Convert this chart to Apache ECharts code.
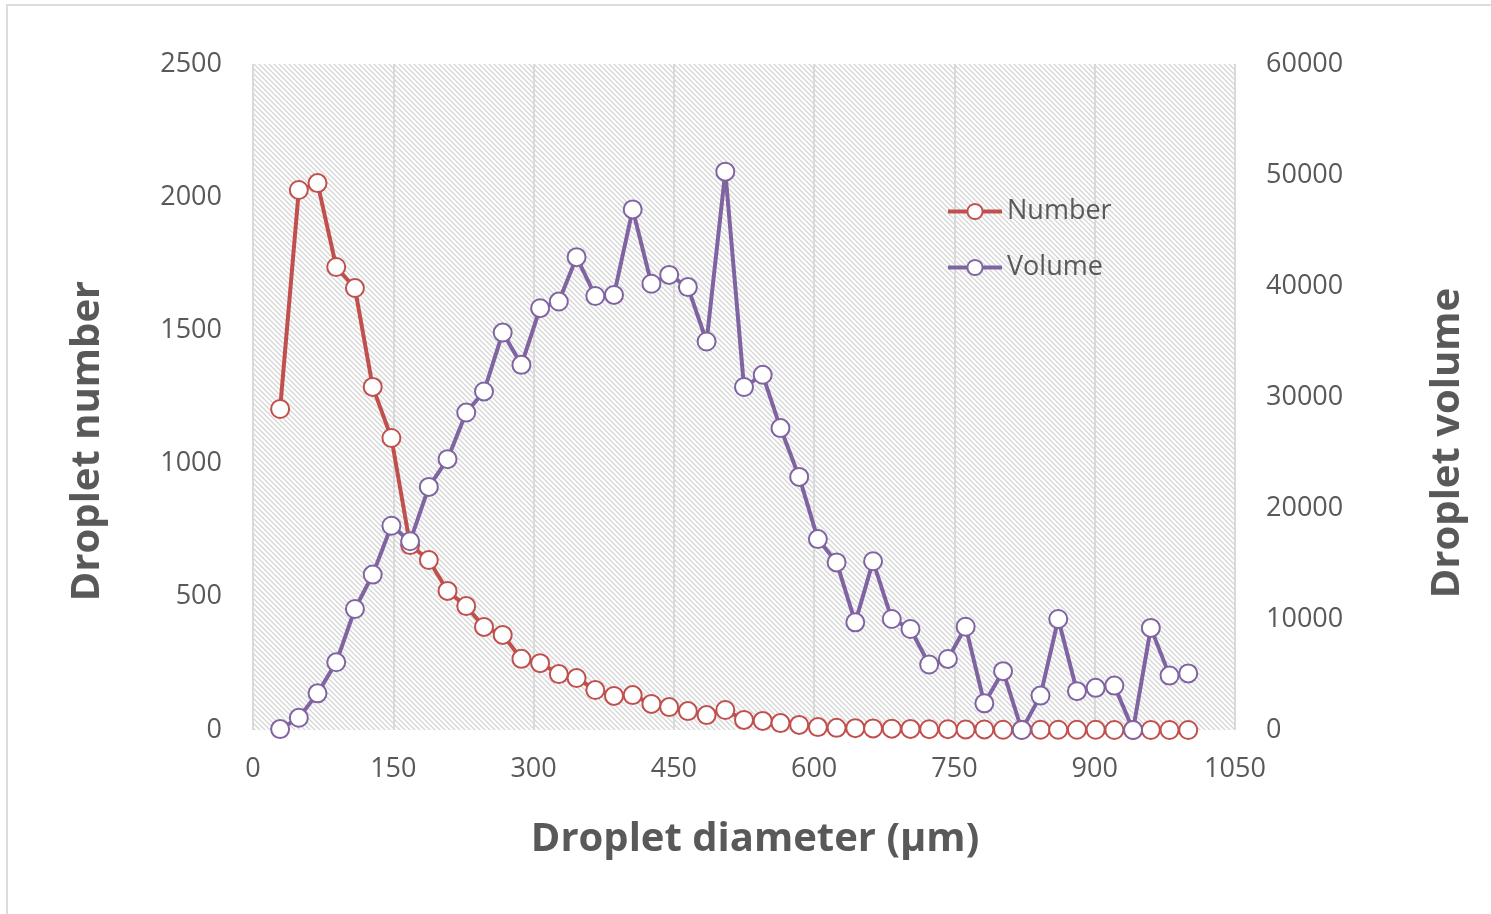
<!DOCTYPE html>
<html lang="en">
<head>
    <meta charset="UTF-8">
    <title>Droplet distribution</title>
    <style>
        html, body { margin: 0; padding: 0; background: #fff; }
    </style>
</head>
<body>
<div id="main" style="width: 1491px;height:914px;"></div>
<script src="https://cdn.jsdelivr.net/npm/echarts@6/dist/echarts.min.js"></script>
<script type="text/javascript">
    // droplet diameter (um) of each bin
    var diam = [29, 49, 69, 89, 109, 128, 148, 168, 188, 208, 228, 247, 267, 287, 307, 327, 346, 366, 386, 406,
        426, 445, 465, 485, 505, 525, 545, 564, 584, 604, 624, 644, 663, 683, 703, 723, 743, 762, 782, 802,
        822, 842, 861, 881, 901, 921, 941, 960, 980, 1000];
    // droplet number (left axis)
    var number = [1205, 2027, 2053, 1738, 1659, 1288, 1096, 694, 638, 522, 465, 387, 357, 267, 251, 210, 195, 150, 128, 131,
        98, 86, 71, 56, 75, 38, 34, 26, 19, 11, 8, 7, 6, 5, 4, 3, 3, 2, 2, 1,
        1, 1, 1, 1, 1, 0, 0, 0, 0, 0];
    // droplet volume (right axis)
    var volume = [80, 1100, 3300, 6100, 10900, 14000, 18400, 17000, 21900, 24400, 28600, 30500, 35800, 32900, 38000, 38600, 42600, 39100, 39200, 46900,
        40200, 41000, 39900, 35000, 50300, 30900, 32000, 27200, 22800, 17200, 15100, 9700, 15200, 10000, 9100, 5900, 6400, 9300, 2400, 5300,
        0, 3100, 10000, 3500, 3800, 4000, 0, 9200, 4900, 5100];

    var seriesNames = ['Number', 'Volume'];
    var txtColor = '#595959';
    var font = '"Open Sans", "Noto Sans", sans-serif';

    function pair(xs, ys) {
        var out = [];
        for (var i = 0; i < xs.length; i++) {
            out.push([xs[i], ys[i]]);
        }
        return out;
    }
    function plain(v) { return String(v); }   // no thousands separator

    // diagonal hatch for the plot area
    var hatch = document.createElement('canvas');
    hatch.width = 5;
    hatch.height = 5;
    var hc = hatch.getContext('2d');
    hc.fillStyle = '#ffffff';
    hc.fillRect(0, 0, 5, 5);
    hc.strokeStyle = '#d6d6d6';
    hc.lineWidth = 1.3;
    hc.beginPath();
    hc.moveTo(-1, -1); hc.lineTo(6, 6);
    hc.moveTo(-1, 4); hc.lineTo(1, 6);
    hc.moveTo(4, -1); hc.lineTo(6, 1);
    hc.stroke();

    var myChart = echarts.init(document.getElementById('main'));
    myChart.setOption({
        animation: false,
        backgroundColor: '#fff',
        textStyle: { fontFamily: font },
        grid: {
            left: 253,
            right: 256,
            top: 64,
            bottom: 184,
            show: true,
            borderWidth: 0,
            backgroundColor: { image: hatch, repeat: 'repeat' }
        },
        legend: {
            data: seriesNames,
            orient: 'vertical',
            left: 946,
            top: 198,
            padding: 0,
            itemWidth: 54,
            itemHeight: 19,
            itemGap: 29,
            lineStyle: { width: 4 },
            itemStyle: { borderWidth: 3.5 },
            textStyle: { color: txtColor, fontSize: 27, lineHeight: 26, fontFamily: font }
        },
        xAxis: {
            type: 'value',
            min: 0,
            max: 1050,
            interval: 150,
            axisLine: { show: false },
            axisTick: { show: false },
            axisLabel: { color: txtColor, fontSize: 27, margin: 26, fontFamily: font, formatter: plain },
            splitLine: { show: true, lineStyle: { color: '#d9d9d9', width: 2 } }
        },
        yAxis: [{
            type: 'value',
            min: 0,
            max: 2500,
            interval: 500,
            axisLine: { show: false },
            axisTick: { show: false },
            axisLabel: { color: txtColor, fontSize: 27, margin: 31, fontFamily: font, formatter: plain },
            splitLine: { show: false }
        }, {
            type: 'value',
            min: 0,
            max: 60000,
            interval: 10000,
            axisLine: { show: false },
            axisTick: { show: false },
            axisLabel: { color: txtColor, fontSize: 27, margin: 31, fontFamily: font, formatter: plain },
            splitLine: { show: false }
        }],
        graphic: [
            {
                type: 'rect',
                z: -10,
                shape: { x: 7, y: 5, width: 1600, height: 1000 },
                style: { fill: null, stroke: '#dcdcdc', lineWidth: 2 }
            },
            {
                type: 'text',
                x: 755, y: 840,
                style: {
                    text: 'Droplet diameter (μm)', fill: txtColor,
                    font: 'bold 40px ' + font, textAlign: 'center', textVerticalAlign: 'middle'
                }
            },
            {
                type: 'text',
                x: 88, y: 441,
                rotation: Math.PI / 2,
                style: {
                    text: 'Droplet number', fill: txtColor,
                    font: 'bold 40px ' + font, textAlign: 'center', textVerticalAlign: 'middle'
                }
            },
            {
                type: 'text',
                x: 1448, y: 443,
                rotation: Math.PI / 2,
                style: {
                    text: 'Droplet volume', fill: txtColor,
                    font: 'bold 40px ' + font, textAlign: 'center', textVerticalAlign: 'middle'
                }
            }
        ],
        series: [
            {
                name: seriesNames[0],
                type: 'line',
                yAxisIndex: 0,
                data: pair(diam, number),
                symbol: 'emptyCircle',
                symbolSize: 18,
                itemStyle: { color: '#C0504D', borderWidth: 3.5 },
                lineStyle: { color: '#C0504D', width: 4 }
            },
            {
                name: seriesNames[1],
                type: 'line',
                yAxisIndex: 1,
                data: pair(diam, volume),
                symbol: 'emptyCircle',
                symbolSize: 18,
                itemStyle: { color: '#8064A2', borderWidth: 3.5 },
                lineStyle: { color: '#8064A2', width: 4 }
            }
        ]
    });
</script>
</body>
</html>
